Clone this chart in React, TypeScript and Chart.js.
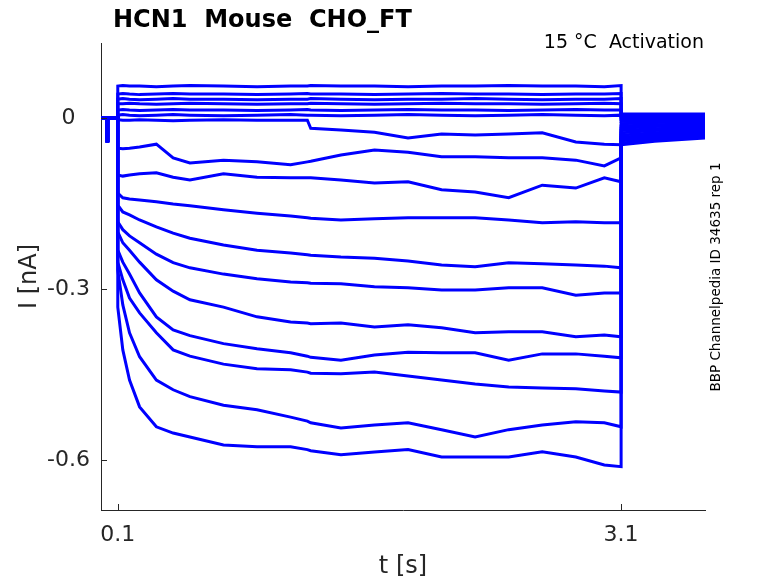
import React, { useEffect, useRef } from "react";
import { Chart, registerables, Plugin } from "chart.js";

Chart.register(...registerables);

// time axis of the voltage step (s)
const stepTimes = [0.1, 0.13, 0.17, 0.23, 0.33, 0.43, 0.53, 0.73, 0.93, 1.13, 1.23, 1.25, 1.43, 1.63, 1.83, 2.03, 2.23, 2.43, 2.63, 2.83, 3.0, 3.1];

// holding period before the step, with the small artefact
const preTimes = [0, 0.034, 0.036, 0.039, 0.041, 0.1];
const preValues = [0, 0, -0.04, -0.04, 0, 0];

// tail after the step
const tailTimes = [3.1, 3.3, 3.6];

// currents during the step (nA), one list per sweep
const sweep1 = [0.056, 0.057, 0.056, 0.056, 0.055, 0.056, 0.057, 0.056, 0.055, 0.056, 0.056, 0.057, 0.056, 0.056, 0.055, 0.056, 0.056, 0.057, 0.056, 0.056, 0.055, 0.057];
const sweep2 = [0.042, 0.043, 0.042, 0.041, 0.042, 0.043, 0.042, 0.042, 0.041, 0.042, 0.043, 0.042, 0.042, 0.041, 0.042, 0.043, 0.042, 0.042, 0.041, 0.042, 0.042, 0.043];
const sweep3 = [0.033, 0.034, 0.033, 0.032, 0.033, 0.034, 0.033, 0.033, 0.032, 0.033, 0.033, 0.034, 0.033, 0.032, 0.033, 0.033, 0.034, 0.033, 0.032, 0.033, 0.033, 0.034];
const sweep4 = [0.025, 0.025, 0.026, 0.025, 0.024, 0.025, 0.026, 0.025, 0.024, 0.025, 0.025, 0.026, 0.025, 0.024, 0.025, 0.026, 0.025, 0.025, 0.024, 0.025, 0.026, 0.025];
const sweep5 = [0.014, 0.015, 0.014, 0.013, 0.014, 0.015, 0.014, 0.014, 0.013, 0.014, 0.015, 0.014, 0.013, 0.014, 0.015, 0.014, 0.014, 0.013, 0.014, 0.015, 0.014, 0.014];
const sweep6 = [0.005, 0.006, 0.005, 0.004, 0.005, 0.006, 0.005, 0.004, 0.005, 0.006, 0.005, 0.005, 0.004, 0.005, 0.006, 0.005, 0.004, 0.005, 0.006, 0.005, 0.004, 0.005];
const sweep7 = [-0.003, -0.004, -0.004, -0.003, -0.004, -0.005, -0.004, -0.003, -0.004, -0.004, -0.004, -0.018, -0.021, -0.025, -0.035, -0.028, -0.030, -0.028, -0.026, -0.042, -0.046, -0.047];
const sweep8 = [-0.053, -0.054, -0.053, -0.051, -0.046, -0.070, -0.079, -0.074, -0.077, -0.082, -0.077, -0.076, -0.065, -0.056, -0.060, -0.068, -0.068, -0.070, -0.070, -0.074, -0.084, -0.070];
const sweep9 = [-0.100, -0.102, -0.100, -0.098, -0.096, -0.104, -0.109, -0.098, -0.104, -0.105, -0.105, -0.105, -0.109, -0.114, -0.112, -0.126, -0.130, -0.140, -0.118, -0.123, -0.105, -0.112];
const sweep10 = [-0.132, -0.140, -0.142, -0.144, -0.147, -0.151, -0.154, -0.161, -0.167, -0.172, -0.175, -0.176, -0.179, -0.177, -0.175, -0.175, -0.175, -0.179, -0.184, -0.182, -0.184, -0.184];
const sweep11 = [-0.153, -0.165, -0.170, -0.179, -0.191, -0.202, -0.211, -0.223, -0.232, -0.237, -0.240, -0.241, -0.244, -0.246, -0.251, -0.258, -0.261, -0.254, -0.256, -0.258, -0.260, -0.263];
const sweep12 = [-0.182, -0.196, -0.207, -0.219, -0.239, -0.254, -0.263, -0.274, -0.282, -0.288, -0.289, -0.290, -0.291, -0.296, -0.298, -0.302, -0.302, -0.298, -0.298, -0.311, -0.307, -0.307];
const sweep13 = [-0.200, -0.219, -0.232, -0.253, -0.284, -0.304, -0.319, -0.332, -0.349, -0.358, -0.360, -0.361, -0.360, -0.367, -0.363, -0.368, -0.377, -0.375, -0.375, -0.384, -0.381, -0.384];
const sweep14 = [-0.232, -0.253, -0.274, -0.307, -0.349, -0.372, -0.382, -0.396, -0.405, -0.412, -0.418, -0.420, -0.425, -0.416, -0.411, -0.412, -0.412, -0.425, -0.414, -0.414, -0.418, -0.421];
const sweep15 = [-0.253, -0.284, -0.316, -0.342, -0.377, -0.407, -0.418, -0.432, -0.440, -0.442, -0.446, -0.448, -0.449, -0.446, -0.453, -0.460, -0.467, -0.472, -0.474, -0.475, -0.479, -0.481];
const sweep16 = [-0.267, -0.328, -0.377, -0.419, -0.460, -0.477, -0.489, -0.504, -0.512, -0.525, -0.532, -0.535, -0.544, -0.539, -0.535, -0.547, -0.560, -0.547, -0.539, -0.533, -0.535, -0.542];
const sweep17 = [-0.332, -0.407, -0.460, -0.507, -0.542, -0.553, -0.560, -0.574, -0.577, -0.577, -0.582, -0.584, -0.591, -0.586, -0.582, -0.595, -0.595, -0.595, -0.586, -0.595, -0.609, -0.612];

const sweeps = [sweep1, sweep2, sweep3, sweep4, sweep5, sweep6, sweep7, sweep8, sweep9, sweep10, sweep11, sweep12, sweep13, sweep14, sweep15, sweep16, sweep17];

// tail currents at tailTimes, per sweep
const tails = [
  [0.007, 0.007, 0.007],
  [0.005, 0.005, 0.005],
  [0.003, 0.003, 0.003],
  [0.0, 0.001, 0.001],
  [-0.003, -0.002, -0.002],
  [-0.006, -0.005, -0.004],
  [-0.010, -0.008, -0.007],
  [-0.014, -0.012, -0.010],
  [-0.018, -0.015, -0.013],
  [-0.022, -0.019, -0.016],
  [-0.026, -0.022, -0.019],
  [-0.030, -0.026, -0.022],
  [-0.034, -0.029, -0.025],
  [-0.037, -0.032, -0.028],
  [-0.040, -0.035, -0.030],
  [-0.044, -0.038, -0.033],
  [-0.047, -0.041, -0.035],
];

const xTicks = [0.1, 3.1];
const xTickLabels = ["0.1", "3.1"];
const yTicks = [-0.6, -0.3, 0];
const yTickLabels = ["-0.6", "-0.3", "0"];

const FONT = "'DejaVu Sans', sans-serif";
const AXIS = "#262626";
const TRACE = "#0000ff";

const textPlugin: Plugin = {
  id: "matlabText",
  afterDraw(chart) {
    const { ctx, chartArea, scales } = chart;
    const xs = scales.x;
    const ys = scales.y;
    ctx.save();
    // inward tick marks
    ctx.strokeStyle = AXIS;
    ctx.lineWidth = 1;
    ctx.beginPath();
    xTicks.forEach((v) => {
      const px = Math.round(xs.getPixelForValue(v)) + 0.5;
      ctx.moveTo(px, chartArea.bottom);
      ctx.lineTo(px, chartArea.bottom - 6);
    });
    yTicks.forEach((v) => {
      const py = Math.round(ys.getPixelForValue(v)) + 0.5;
      ctx.moveTo(chartArea.left, py);
      ctx.lineTo(chartArea.left + 6, py);
    });
    ctx.stroke();

    ctx.fillStyle = "#000";
    ctx.font = `bold 24px ${FONT}`;
    ctx.textAlign = "left";
    ctx.textBaseline = "alphabetic";
    ctx.fillText("HCN1  Mouse  CHO_FT", 113, 27);

    ctx.font = `19px ${FONT}`;
    ctx.textAlign = "right";
    ctx.fillText("15 °C  Activation", 704, 48);

    ctx.font = `13.5px ${FONT}`;
    ctx.textAlign = "center";
    ctx.textBaseline = "middle";
    ctx.translate(716, 277);
    ctx.rotate(-Math.PI / 2);
    ctx.fillText("BBP Channelpedia ID 34635 rep 1", 0, 0);
    ctx.restore();
  },
};

const App: React.FC = () => {
  const canvasRef = useRef<HTMLCanvasElement>(null);
  const chartRef = useRef<Chart | null>(null);

  useEffect(() => {
    if (!canvasRef.current) return;
    if (chartRef.current) chartRef.current.destroy();

    const datasets = sweeps.map((vals, i) => {
      const pts: { x: number; y: number }[] = [];
      preTimes.forEach((t, k) => pts.push({ x: t, y: preValues[k] }));
      stepTimes.forEach((t, k) => pts.push({ x: t, y: vals[k] }));
      tailTimes.forEach((t, k) => pts.push({ x: t, y: tails[i][k] }));
      return {
        data: pts,
        borderColor: TRACE,
        borderWidth: 3,
        pointRadius: 0,
        tension: 0,
        fill: false,
      };
    });

    chartRef.current = new Chart(canvasRef.current, {
      type: "line",
      data: { datasets },
      options: {
        animation: false,
        responsive: false,
        devicePixelRatio: 1,
        layout: { padding: { left: 0, right: 73, top: 43, bottom: 0 } },
        plugins: { legend: { display: false }, tooltip: { enabled: false } },
        scales: {
          x: {
            type: "linear",
            min: 0,
            max: 3.6,
            afterBuildTicks: (s) => {
              s.ticks = xTicks.map((v) => ({ value: v }));
            },
            afterFit: (s) => {
              s.height = 73;
            },
            ticks: {
              autoSkip: false,
              maxRotation: 0,
              padding: 12,
              color: AXIS,
              font: { family: FONT, size: 22 },
              callback: (_v, i) => xTickLabels[i],
            },
            grid: { drawOnChartArea: false, drawTicks: false },
            border: { display: true, color: AXIS, width: 1 },
            title: {
              display: true,
              text: "t [s]",
              color: AXIS,
              font: { family: FONT, size: 24 },
              padding: { top: 0, bottom: 2 },
            },
          },
          y: {
            type: "linear",
            min: -0.688,
            max: 0.1316,
            afterBuildTicks: (s) => {
              s.ticks = yTicks.map((v) => ({ value: v }));
            },
            afterFit: (s) => {
              s.width = 101;
            },
            ticks: {
              autoSkip: false,
              crossAlign: "center",
              padding: 11,
              color: AXIS,
              font: { family: FONT, size: 22 },
              callback: (_v, i) => yTickLabels[i],
            },
            grid: { drawOnChartArea: false, drawTicks: false },
            border: { display: true, color: AXIS, width: 1 },
            title: {
              display: true,
              text: "I [nA]",
              color: AXIS,
              font: { family: FONT, size: 24 },
              padding: { top: 15, bottom: 0 },
            },
          },
        },
      },
      plugins: [textPlugin],
    });

    return () => {
      if (chartRef.current) {
        chartRef.current.destroy();
        chartRef.current = null;
      }
    };
  }, []);

  return (
    <div style={{ position: "absolute", left: 0, top: 0, width: 778, height: 583, background: "#fff" }}>
      <canvas ref={canvasRef} width={778} height={583}></canvas>
    </div>
  );
};

export default App;
